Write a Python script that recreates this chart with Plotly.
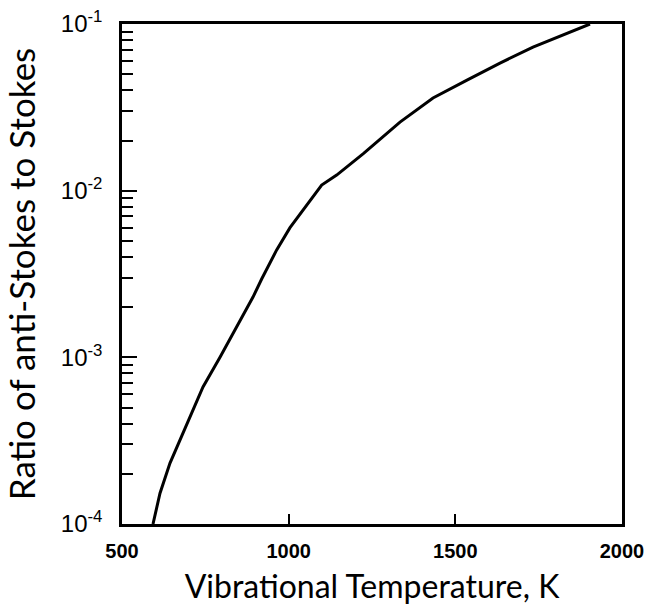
import plotly.graph_objects as go

# Vibrational temperature (K)
temp_k = [593, 614, 644, 695, 743, 794, 845, 893, 919, 964, 1004, 1044, 1084,
          1099, 1144, 1184, 1224, 1334, 1433, 1535, 1634, 1733, 1835, 1904]
# anti-Stokes / Stokes ratio at those temperatures
ratio = [1.0e-4, 1.53e-4, 2.32e-4, 4.04e-4, 6.64e-4, 1.0e-3, 1.52e-3, 2.30e-3,
         2.95e-3, 4.41e-3, 6.0e-3, 7.66e-3, 9.86e-3, 1.08e-2, 1.24e-2, 1.43e-2,
         1.67e-2, 2.58e-2, 3.60e-2, 4.61e-2, 5.83e-2, 7.27e-2, 8.83e-2, 1.0e-1]

x_ticks = [500, 1000, 1500, 2000]
y_ticks = [1e-4, 1e-3, 1e-2, 1e-1]
y_ticktext = ["10<sup>-4</sup>", "10<sup>-3</sup>", "10<sup>-2</sup>", "10<sup>-1</sup>"]

fig = go.Figure(
    go.Scatter(x=temp_k, y=ratio, mode='lines', line=dict(color='black', width=3),
               showlegend=False)
)

fig.update_xaxes(
    range=[500, 2000],
    tickvals=x_ticks,
    ticks='inside', ticklen=10, tickwidth=2, tickcolor='black',
    showline=True, linewidth=2.5, linecolor='black', mirror=True,
    showgrid=False, zeroline=False, automargin=False,
    ticklabelstandoff=7,
    tickfont=dict(family='Liberation Sans', size=20, color='black', weight='bold'),
    title=dict(text='Vibrational Temperature, K', standoff=15,
               font=dict(family='Lato', size=32, color='black')),
)
fig.update_yaxes(
    type='log',
    range=[-4, -1],
    tickvals=y_ticks, ticktext=y_ticktext,
    ticks='inside', ticklen=15, tickwidth=2, tickcolor='black',
    minor=dict(ticks='inside', ticklen=11, tickwidth=2, tickcolor='black', dtick='D1'),
    showline=True, linewidth=2.5, linecolor='black', mirror=True,
    showgrid=False, zeroline=False, automargin=False,
    ticklabelstandoff=12,
    tickfont=dict(family='Liberation Sans', size=24, color='black'),
    title=dict(text='Ratio of anti-Stokes to Stokes', standoff=38,
               font=dict(family='Lato', size=35, color='black')),
)

fig.update_layout(
    width=646, height=609,
    margin=dict(l=122, r=24, t=24, b=85),
    plot_bgcolor='white', paper_bgcolor='white',
)

# page margin off so the figure sits at the window's top-left corner
fig.write_html("out.html", config={'displayModeBar': False},
               post_script="document.body.style.margin = '0';")
